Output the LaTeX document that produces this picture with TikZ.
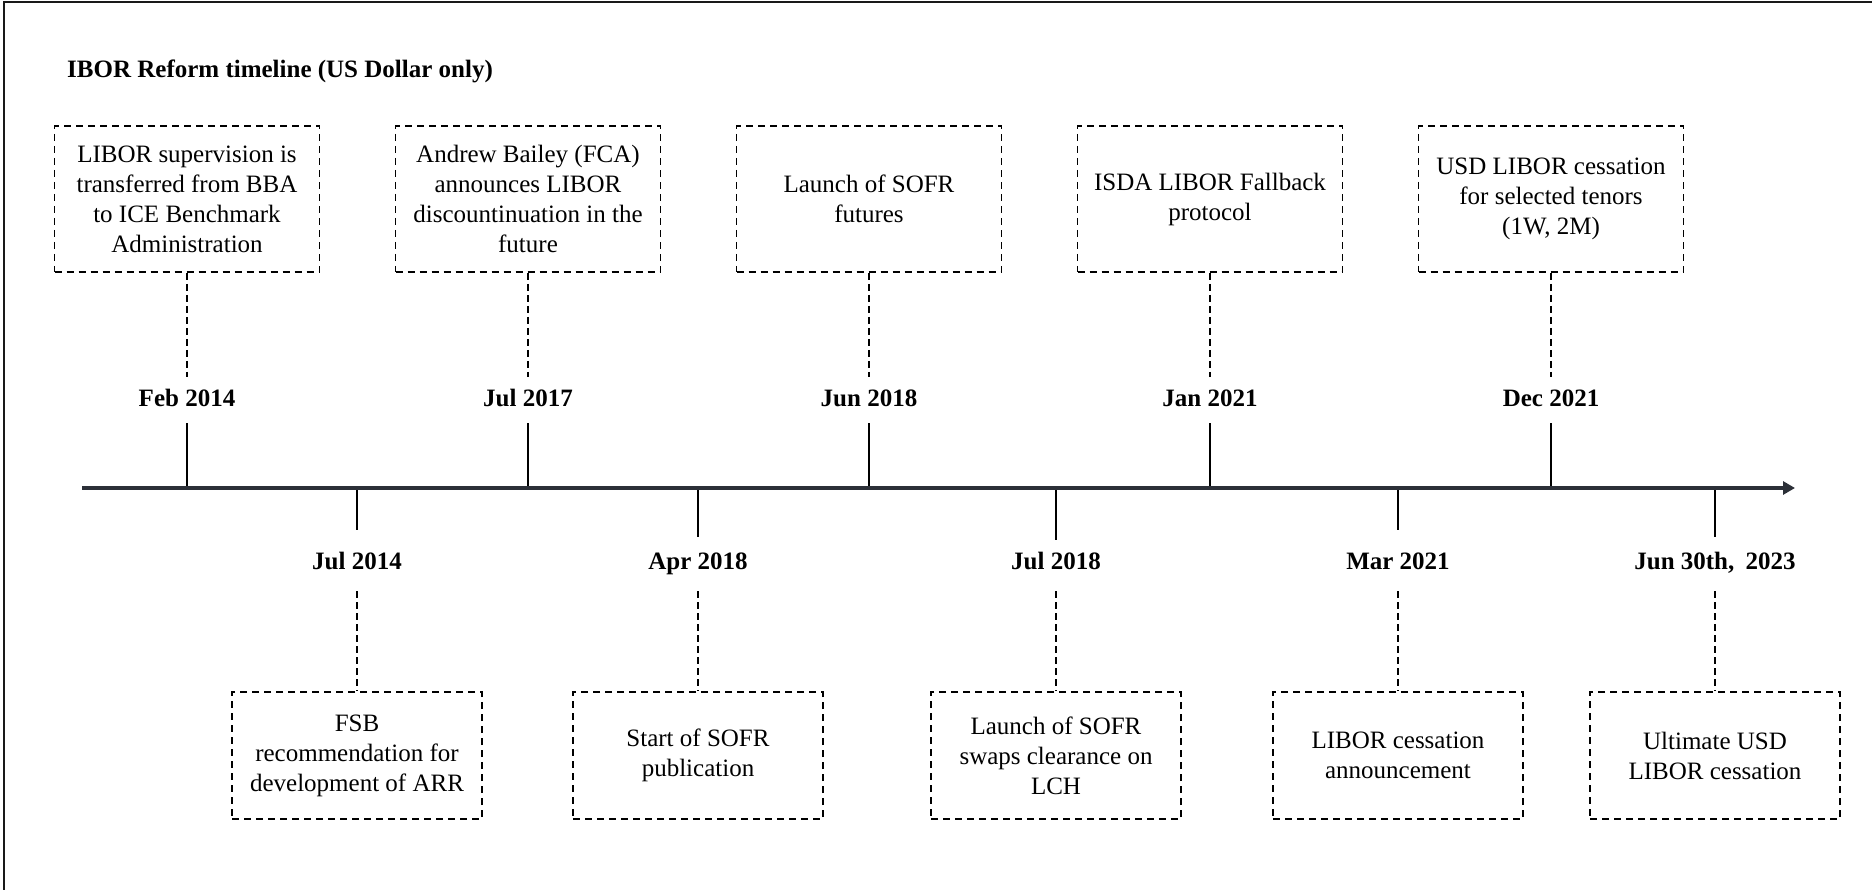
\documentclass[tikz,border=0pt]{standalone}
\usepackage{fontspec}
\setmainfont{Liberation Serif}
\usetikzlibrary{arrows.meta}
\definecolor{axisgray}{RGB}{44,48,56}
\begin{document}
\begin{tikzpicture}[x=1pt,y=-1pt,
  eventbox/.style={draw=black, line width=1.6pt, dash pattern=on 7pt off 5pt,
    align=center, inner sep=0pt, font=\fontsize{25}{30}\selectfont},
  topbox/.style={eventbox, minimum width=265pt, minimum height=146pt},
  botbox/.style={eventbox, minimum width=250pt, minimum height=127pt},
  datelbl/.style={font=\bfseries\fontsize{25}{30}\selectfont, inner sep=0pt,
    anchor=base, text height=17pt, text depth=0pt},
  toplink/.style={line width=1.3pt, dash pattern=on 7pt off 4pt, shorten >=13pt},
  botlink/.style={line width=1.3pt, dash pattern=on 7pt off 4pt, shorten <=22pt},
  ticmark/.style={line width=2pt, black},
  axisline/.style={line width=4pt, axisgray, -{Triangle[length=12pt,width=13pt]}}
]
\useasboundingbox (0,0) rectangle (1872,890);
% frame (top and left edges only)
\draw[line width=2pt, black!90] (4,890) -- (4,2) -- (1872,2);

% title
\node[anchor=base west, inner sep=0pt, font=\bfseries\fontsize{25}{30}\selectfont]
  (title) at (67,78) {IBOR Reform timeline (US Dollar only)};

% top boxes
\node[topbox] (t1) at (187,199) {LIBOR supervision is\\transferred from BBA\\to ICE Benchmark\\Administration};
\node[topbox] (t2) at (528,199) {Andrew Bailey (FCA)\\announces LIBOR\\discountinuation in the\\future};
\node[topbox] (t3) at (869,199) {Launch of SOFR\\futures};
\node[topbox] (t4) at (1210,199) {ISDA LIBOR Fallback\\protocol};
\node[topbox] (t5) at (1551,199) {USD LIBOR cessation\\for selected tenors\\(1W, 2M)};

% bottom boxes
\node[botbox] (b1) at (357,755.5) {FSB\\recommendation for\\development of ARR};
\node[botbox] (b2) at (698,755.5) {Start of SOFR\\publication};
\node[botbox] (b3) at (1056,755.5) {Launch of SOFR\\swaps clearance on\\LCH};
\node[botbox] (b4) at (1398,755.5) {LIBOR cessation\\announcement};
\node[botbox] (b5) at (1715,755.5) {Ultimate USD\\LIBOR cessation};

% date labels
\node[datelbl] (l1) at (187,407) {Feb 2014};
\node[datelbl] (l2) at (528,407) {Jul 2017};
\node[datelbl] (l3) at (869,407) {Jun 2018};
\node[datelbl] (l4) at (1210,407) {Jan 2021};
\node[datelbl] (l5) at (1551,407) {Dec 2021};
\node[datelbl] (l6) at (357,569) {Jul 2014};
\node[datelbl] (l7) at (698,569) {Apr 2018};
\node[datelbl] (l8) at (1056,569) {Jul 2018};
\node[datelbl] (l9) at (1398,569) {Mar 2021};
\node[datelbl] (l10) at (1715,569) {Jun 30th,\hspace{0.45em}2023};

% dashed connectors
\draw[toplink] (t1.south) -- (l1.north);
\draw[toplink] (t2.south) -- (l2.north);
\draw[toplink] (t3.south) -- (l3.north);
\draw[toplink] (t4.south) -- (l4.north);
\draw[toplink] (t5.south) -- (l5.north);
\draw[botlink] (l6.south) -- (b1.north);
\draw[botlink] (l7.south) -- (b2.north);
\draw[botlink] (l8.south) -- (b3.north);
\draw[botlink] (l9.south) -- (b4.north);
\draw[botlink] (l10.south) -- (b5.north);

% axis points
\coordinate (a1) at (187,488);
\coordinate (a2) at (357,488);
\coordinate (a3) at (528,488);
\coordinate (a4) at (698,488);
\coordinate (a5) at (869,488);
\coordinate (a6) at (1056,488);
\coordinate (a7) at (1210,488);
\coordinate (a8) at (1398,488);
\coordinate (a9) at (1551,488);
\coordinate (a10) at (1715,488);

% ticks
\draw[ticmark] (a1) -- ++(0,-65);
\draw[ticmark] (a3) -- ++(0,-65);
\draw[ticmark] (a5) -- ++(0,-65);
\draw[ticmark] (a7) -- ++(0,-65);
\draw[ticmark] (a9) -- ++(0,-65);
\draw[ticmark] (a2) -- ++(0,42);
\draw[ticmark] (a4) -- ++(0,49);
\draw[ticmark] (a6) -- ++(0,52);
\draw[ticmark] (a8) -- ++(0,42);
\draw[ticmark] (a10) -- ++(0,49);

% axis
\coordinate (axstart) at (82,488);
\coordinate (axend) at (1795,488);
\draw[axisline] (axstart) -- (axend);
\end{tikzpicture}
\end{document}
